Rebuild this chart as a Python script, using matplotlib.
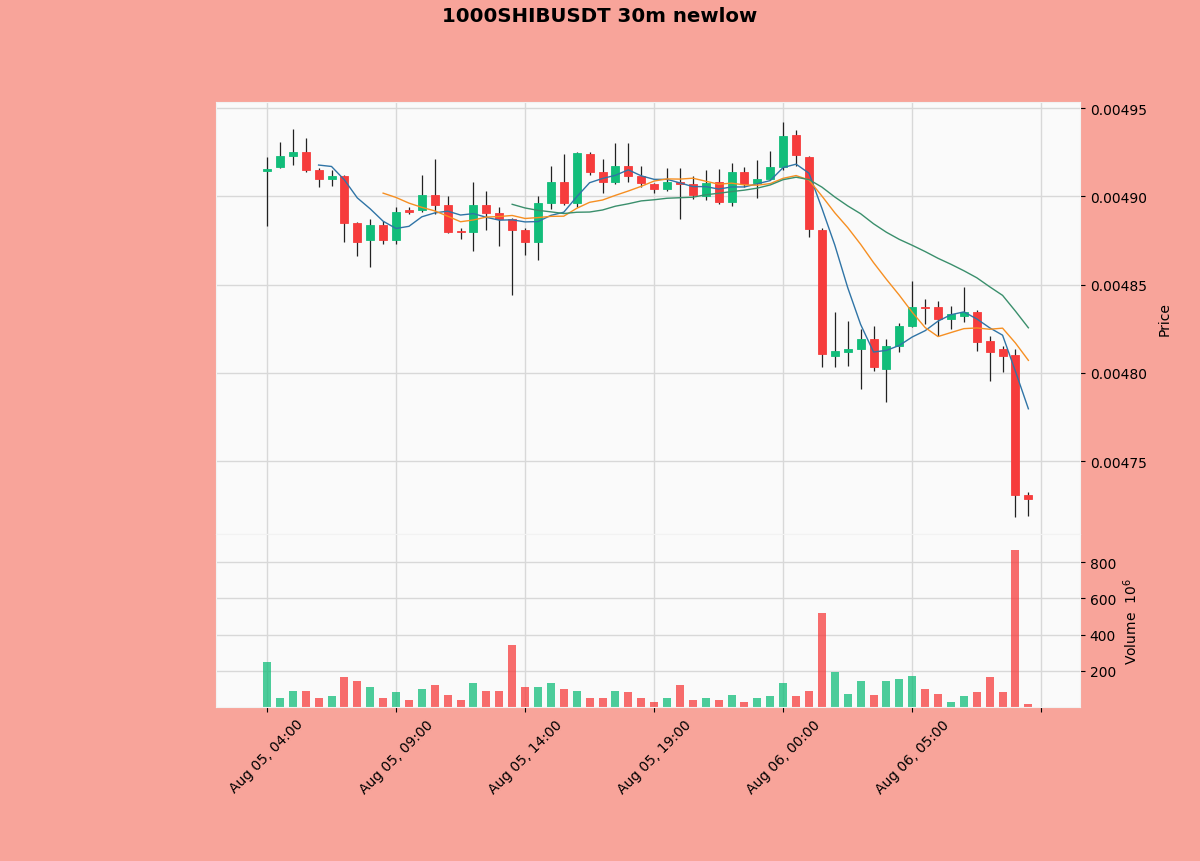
import numpy as np
import pandas as pd
import matplotlib
matplotlib.use('Agg')
import matplotlib.pyplot as plt
from matplotlib.patches import Rectangle

# candle data, 30 minute bars starting Aug 05 04:00
dates = pd.date_range('2024-08-05 04:00', periods=60, freq='30min')

opens = [0.0049143, 0.0049165, 0.0049230, 0.0049250, 0.0049150, 0.0049100, 0.0049115, 0.0048850,
         0.0048750, 0.0048840, 0.0048750, 0.0048920, 0.0048920, 0.0049010, 0.0048950, 0.0048803,
         0.0048800, 0.0048950, 0.0048905, 0.0048870, 0.0048810, 0.0048740, 0.0048960, 0.0049080,
         0.0048960, 0.0049240, 0.0049140, 0.0049080, 0.0049170, 0.0049115, 0.0049070, 0.0049040,
         0.0049080, 0.0049070, 0.0049000, 0.0049080, 0.0048970, 0.0049140, 0.0049075, 0.0049100,
         0.0049166, 0.0049350, 0.0049220, 0.0048810, 0.0048096, 0.0048118, 0.0048135, 0.0048192,
         0.0048022, 0.0048152, 0.0048266, 0.0048376, 0.0048373, 0.0048305, 0.0048322, 0.0048345,
         0.0048181, 0.0048135, 0.0048101, 0.0047310]
highs = [0.0049220, 0.0049310, 0.0049380, 0.0049330, 0.0049160, 0.0049150, 0.0049120, 0.0048855,
         0.0048870, 0.0048860, 0.0048940, 0.0048940, 0.0049120, 0.0049210, 0.0049000, 0.0048820,
         0.0049080, 0.0049030, 0.0048940, 0.0048875, 0.0048820, 0.0049000, 0.0049170, 0.0049240,
         0.0049250, 0.0049250, 0.0049210, 0.0049300, 0.0049300, 0.0049170, 0.0049075, 0.0049160,
         0.0049160, 0.0049115, 0.0049150, 0.0049155, 0.0049190, 0.0049165, 0.0049205, 0.0049257,
         0.0049420, 0.0049375, 0.0049230, 0.0048820, 0.0048345, 0.0048294, 0.0048249, 0.0048266,
         0.0048192, 0.0048283, 0.0048520, 0.0048419, 0.0048407, 0.0048379, 0.0048487, 0.0048356,
         0.0048209, 0.0048152, 0.0048135, 0.0047326]
lows = [0.0048830, 0.0049160, 0.0049180, 0.0049140, 0.0049050, 0.0049060, 0.0048740, 0.0048660,
        0.0048600, 0.0048730, 0.0048730, 0.0048900, 0.0048910, 0.0048900, 0.0048790, 0.0048760,
        0.0048690, 0.0048810, 0.0048720, 0.0048440, 0.0048670, 0.0048640, 0.0048930, 0.0048950,
        0.0048940, 0.0049120, 0.0049020, 0.0049070, 0.0049080, 0.0049050, 0.0049020, 0.0049030,
        0.0048870, 0.0048985, 0.0048980, 0.0048955, 0.0048945, 0.0049050, 0.0048990, 0.0049090,
        0.0049150, 0.0049170, 0.0048770, 0.0048034, 0.0048034, 0.0048040, 0.0047909, 0.0048011,
        0.0047835, 0.0048118, 0.0048260, 0.0048277, 0.0048209, 0.0048249, 0.0048288, 0.0048124,
        0.0047954, 0.0048005, 0.0047184, 0.0047190]
closes = [0.0049155, 0.0049230, 0.0049250, 0.0049150, 0.0049100, 0.0049115, 0.0048850, 0.0048740,
          0.0048840, 0.0048750, 0.0048910, 0.0048910, 0.0049010, 0.0048950, 0.0048800, 0.0048800,
          0.0048950, 0.0048905, 0.0048870, 0.0048810, 0.0048740, 0.0048960, 0.0049080, 0.0048960,
          0.0049245, 0.0049140, 0.0049080, 0.0049170, 0.0049115, 0.0049075, 0.0049040, 0.0049080,
          0.0049070, 0.0049010, 0.0049075, 0.0048970, 0.0049140, 0.0049070, 0.0049100, 0.0049166,
          0.0049340, 0.0049234, 0.0048815, 0.0048107, 0.0048124, 0.0048135, 0.0048192, 0.0048034,
          0.0048152, 0.0048266, 0.0048373, 0.0048370, 0.0048305, 0.0048334, 0.0048345, 0.0048175,
          0.0048118, 0.0048096, 0.0047309, 0.0047286]
# volume in millions
volumes = [246, 52, 86, 86, 47, 58, 163, 141, 108, 47, 80, 41, 97, 119, 64, 41,
           135, 91, 86, 340, 113, 108, 135, 97, 91, 52, 52, 91, 80, 47, 30, 47,
           119, 41, 47, 36, 64, 30, 52, 58, 135, 58, 86, 517, 196, 69, 146, 64,
           141, 152, 169, 102, 69, 30, 58, 80, 163, 80, 870, 19]

mav_periods = [5, 10, 20]
mav_colors = ['#2f74a6', '#f68f22', '#3a8f6c']

up_color = '#12bd7a'
down_color = '#f63c3c'
bg_color = '#f8a49a'

x = np.arange(len(dates))
o = np.array(opens)
h = np.array(highs)
l = np.array(lows)
c = np.array(closes)
up = c >= o

fig = plt.figure(figsize=(12, 8.62), dpi=100, facecolor=bg_color)
ax = fig.add_axes([0.18, 0.3794, 0.72, 0.5011])
axv = fig.add_axes([0.18, 0.1787, 0.72, 0.2007], sharex=ax)

for a in (ax, axv):
    a.set_facecolor('#fafafa')
    a.grid(True, color='#d8d8d8', linewidth=1.0)
    a.set_axisbelow(True)
    for s in a.spines.values():
        s.set_color('#f2f2f2')
    a.yaxis.tick_right()
    a.yaxis.set_label_position('right')

# candles
width = 0.62
for i in x:
    col = up_color if up[i] else down_color
    ax.vlines(i, l[i], h[i], color='#222222', linewidth=0.9, zorder=2)
    bottom = min(o[i], c[i])
    height = max(abs(c[i] - o[i]), 0.0000004)
    ax.add_patch(Rectangle((i - width / 2, bottom), width, height,
                           facecolor=col, edgecolor=col, linewidth=0.6, zorder=3))

# moving averages
close_s = pd.Series(c)
for n, col in zip(mav_periods, mav_colors):
    ax.plot(x, close_s.rolling(n).mean(), color=col, linewidth=1.0, zorder=4)

# volume
vol_colors = [up_color if u else down_color for u in up]
axv.bar(x, volumes, width=width, color=vol_colors, alpha=0.75, zorder=2)

ax.set_xlim(-3.95, 63.0)
ax.set_ylim(0.0047088, 0.0049534)
axv.set_ylim(0, 957)

ax.set_yticks([0.00475, 0.00480, 0.00485, 0.00490, 0.00495])
ax.set_yticklabels(['0.00475', '0.00480', '0.00485', '0.00490', '0.00495'])
axv.set_yticks([200, 400, 600, 800])

ticks = list(range(0, 61, 10))
labels = [dates[t].strftime('%b %d, %H:%M') if t < len(dates) else '' for t in ticks]
axv.set_xticks(ticks)
axv.set_xticklabels(labels, rotation=45, ha='center')
ax.tick_params(axis='x', which='both', bottom=False, labelbottom=False)

ax.set_ylabel('Price', labelpad=8)
axv.set_ylabel('Volume  $10^{6}$', labelpad=4)

fig.text(0.5, 1 - 16 / 862, '1000SHIBUSDT 30m newlow', ha='center', va='center',
         fontsize=14.2, fontweight='bold')

fig.savefig('out.png', dpi=100, facecolor=bg_color)
